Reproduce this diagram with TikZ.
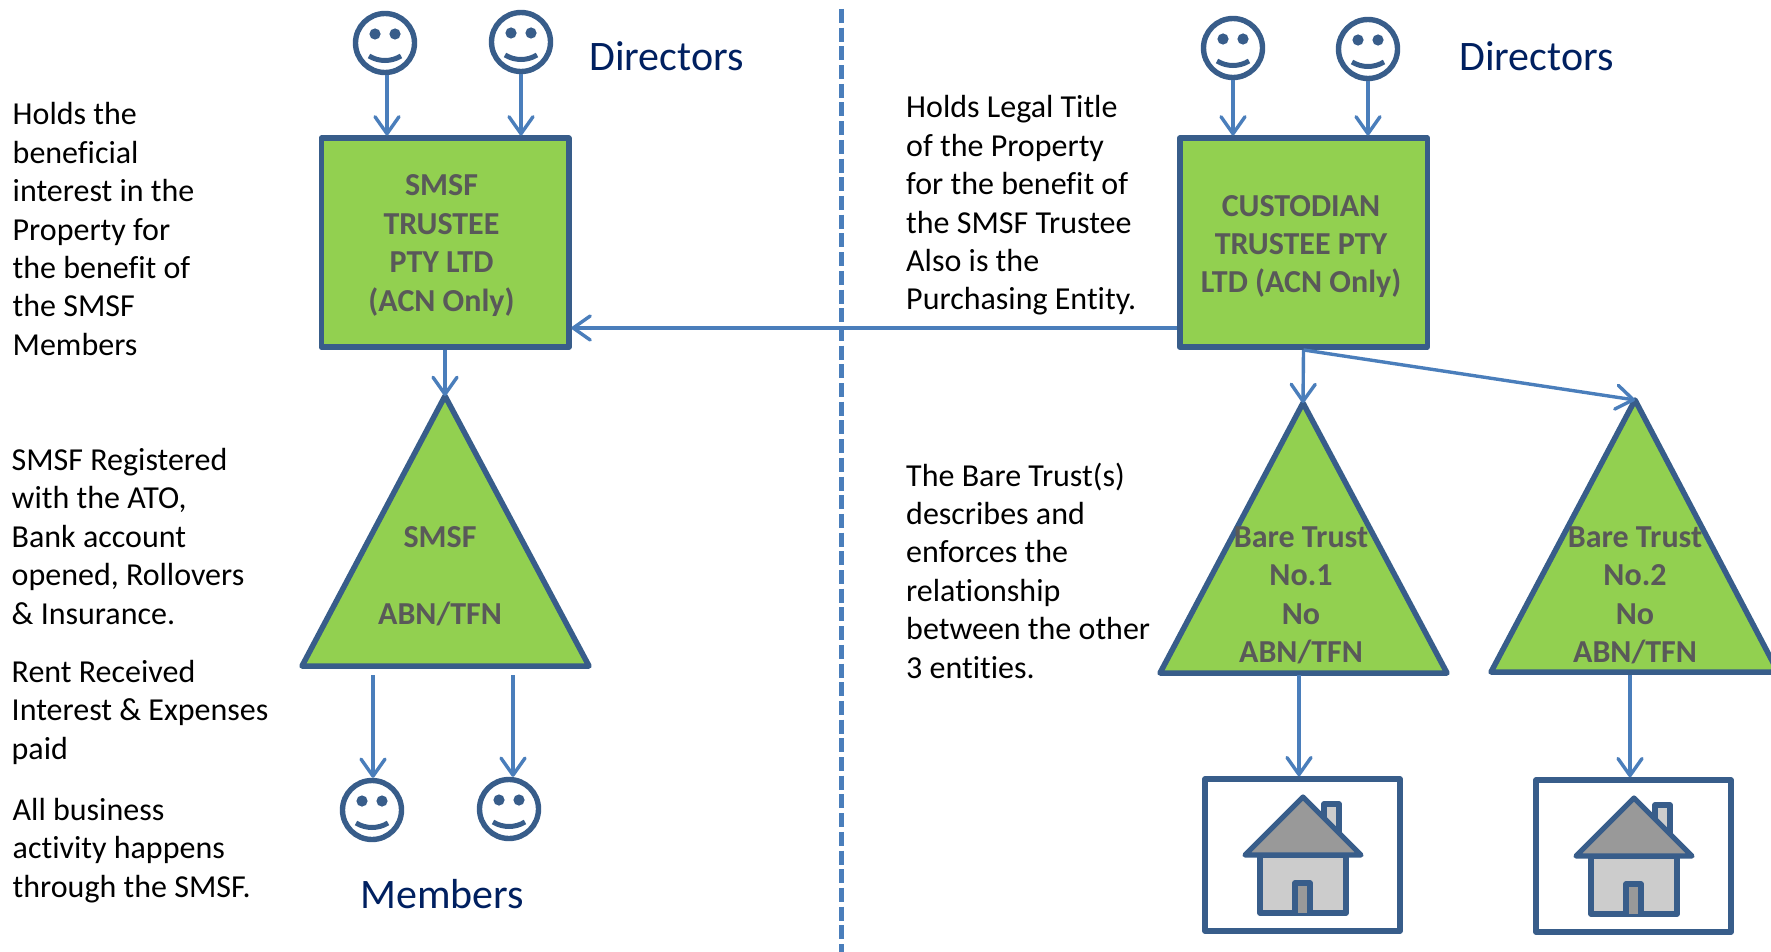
\documentclass[tikz,border=0pt]{standalone}
\usepackage{fontspec}
\setmainfont[Ligatures=NoCommon]{Carlito}
\usetikzlibrary{arrows.meta}
\definecolor{edge}{HTML}{385D8A}
\definecolor{conn}{HTML}{4A7EBB}
\definecolor{leaf}{HTML}{92D050}
\definecolor{greytext}{HTML}{595959}
\definecolor{navy}{HTML}{002060}
\definecolor{wall}{HTML}{CCCCCC}
\definecolor{roof}{HTML}{999999}
\tikzset{
  x=1pt,y=-1pt,
  conn/.style={draw=conn,line width=3.4pt,-{Straight Barb[length=17pt,width=24pt,line width=3.4pt,round]}},
  divider/.style={draw=conn,line width=5pt,dash pattern=on 14pt off 4.7pt},
  face/.style={circle,draw=edge,line width=5.4pt,fill=white,minimum size=59pt,inner sep=0pt},
  entity/.style={rectangle,draw=edge,fill=leaf,line width=5.5pt,line join=round,inner sep=0pt},
  trilabel/.style={inner sep=0pt,align=center,text=greytext,font=\fontsize{32}{38.4}\selectfont\bfseries},
  tri/.style={draw=edge,fill=leaf,line width=5.5pt,line join=round},
  note/.style={anchor=north west,inner sep=0pt,align=left,text=black,font=\fontsize{32}{38.4}\selectfont},
  head/.style={inner sep=0pt,text=navy,font=\fontsize{42}{50}\selectfont},
  plot/.style={rectangle,draw=edge,fill=white,line width=5.5pt,line join=round,inner sep=0pt},
  hline/.style={draw=edge,line width=5.2pt,line join=round,line cap=round},
}
\newcommand{\smiley}[3]{%
  \node[face] (#1) at (#2,#3) {};
  \fill[edge] ([shift={(-10,-9)}]#1.center) circle (5.6);
  \fill[edge] ([shift={(10,-9)}]#1.center) circle (5.6);
  \draw[edge,line width=5pt] ([shift={(-16,13)}]#1.center) .. controls ([shift={(-6,19)}]#1.center) and ([shift={(6,19)}]#1.center) .. ([shift={(16,13)}]#1.center);
}
\newcommand{\house}[2]{%
  \begin{scope}[shift={(#1,#2)}]
    \draw[hline,fill=wall] (21,24) -- (21,7) -- (36,7) -- (36,38);
    \draw[hline,fill=wall] (-43,58) rectangle (43,116);
    \draw[hline,fill=roof] (0,0) -- (58,58) -- (-58,58) -- cycle;
    \draw[hline,fill=roof] (-8,116) -- (-8,86) -- (7,86) -- (7,116);
  \end{scope}
}
\begin{document}
\begin{tikzpicture}
\useasboundingbox (0,0) rectangle (1771,952);
\clip (0,0) rectangle (1771,952);
\fill[white] (0,0) rectangle (1771,952);

\coordinate (divtop) at (841.5,9);
\coordinate (divbot) at (841.5,952);
\draw[divider] (divtop) -- (divbot);

\node[entity,minimum width=247.5pt,minimum height=209pt] (smsftrustee) at (445,242.7) {};
\node[entity,minimum width=247.5pt,minimum height=209pt] (custodian) at (1303.5,242.7) {};
\node[trilabel] (smsftext) at (441.5,245.5) {SMSF\\TRUSTEE\\PTY LTD\\(ACN Only)};
\node[trilabel] (custtext) at (1301,246.5) {CUSTODIAN\\TRUSTEE PTY\\LTD (ACN Only)};

\smiley{dl1}{385}{43}
\smiley{dl2}{521}{42}
\smiley{dr1}{1233}{48}
\smiley{dr2}{1368}{49}
\smiley{m1}{372}{810}
\smiley{m2}{509}{809}

\coordinate (t0l) at (302,666); \coordinate (t0r) at (589,666); \coordinate (t0a) at (445,396);
\coordinate (t1l) at (1160,673); \coordinate (t1r) at (1447,673); \coordinate (t1a) at (1303,403);
\coordinate (t2l) at (1491,672); \coordinate (t2r) at (1778,672); \coordinate (t2a) at (1635,400);
\draw[tri] (t0l) -- (t0r) -- (t0a) -- cycle;
\draw[tri] (t1l) -- (t1r) -- (t1a) -- cycle;
\draw[tri] (t2l) -- (t2r) -- (t2a) -- cycle;

\node[trilabel] (t0text) at (440,576.5) {SMSF\\[38.4pt]ABN/TFN};
\node[trilabel] (t1text) at (1301,595.5) {Bare Trust\\No.1\\No\\ABN/TFN};
\node[trilabel] (t2text) at (1635,595.5) {Bare Trust\\No.2\\No\\ABN/TFN};

\node[plot,minimum width=195pt,minimum height=152pt] (plot1) at (1302.5,855) {};
\node[plot,minimum width=195pt,minimum height=152pt] (plot2) at (1633.5,856) {};
\house{1303}{797}
\house{1634}{798}

% connectors
\draw[conn] ([xshift=2pt]dl1.south) -- ([xshift=2pt]dl1.south |- smsftrustee.north);
\draw[conn] (dl2.south) -- (dl2.south |- smsftrustee.north);
\draw[conn] (dr1.south) -- (dr1.south |- custodian.north);
\draw[conn] (dr2.south) -- (dr2.south |- custodian.north);
\coordinate (hstart) at (custodian.west |- 0,328);
\coordinate (hend) at (smsftrustee.east |- 0,328);
\draw[conn] (hstart) -- (hend);
\draw[conn] (smsftrustee.south -| t0a) -- (t0a);
\draw[conn] (custodian.south) -- (t1a);
\draw[conn] (custodian.south) -- (t2a);
\coordinate (m1from) at (373,675);
\coordinate (m2from) at (513,675);
\draw[conn] (m1from) -- (m1from |- m1.north);
\draw[conn] (m2from) -- (m2from |- m2.north);
\coordinate (p1from) at (1299,675);
\coordinate (p2from) at (1630,675);
\draw[conn] (p1from) -- (p1from |- plot1.north);
\draw[conn] (p2from) -- (p2from |- plot2.north);

% texts
\node[head,anchor=base west] (h1) at (589,71) {Directors};
\node[head,anchor=base west] (h2) at (1459,71) {Directors};
\node[head,anchor=base west] (h3) at (360,908.5) {Members};

\node[note] (n1) at (12.5,102.5) {Holds the\\beneficial\\interest in the\\Property for\\the benefit of\\the SMSF\\Members};
\node[note] (n2) at (11.5,448) {SMSF Registered\\with the ATO,\\Bank account\\opened, Rollovers\\\& Insurance.};
\node[note] (n3) at (11.5,660) {Rent Received\\Interest \& Expenses\\paid};
\node[note] (n4) at (12.5,798) {All business\\activity happens\\through the SMSF.};
\node[note] (n5) at (906,95.5) {Holds Legal Title\\of the Property\\for the benefit of\\the SMSF Trustee\\Also is the\\Purchasing Entity.};
\node[note] (n6) at (906,462.5) {The Bare Trust(s)\\describes and\\enforces the\\relationship\\between the other\\3 entities.};
\end{tikzpicture}
\end{document}
